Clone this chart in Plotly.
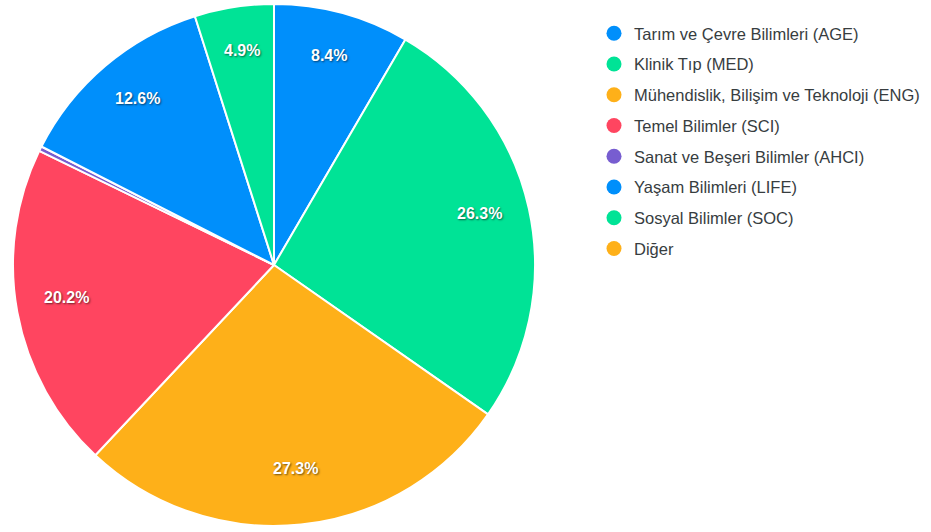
import math
import plotly.graph_objects as go

categories = [
    "Tarım ve Çevre Bilimleri (AGE)",
    "Klinik Tıp (MED)",
    "Mühendislik, Bilişim ve Teknoloji (ENG)",
    "Temel Bilimler (SCI)",
    "Sanat ve Beşeri Bilimler (AHCI)",
    "Yaşam Bilimleri (LIFE)",
    "Sosyal Bilimler (SOC)",
    "Diğer",
]
values = [8.4, 26.3, 27.3, 20.2, 0.3, 12.6, 4.9, 0.0]
colors = ["#008FFB", "#00E396", "#FEB019", "#FF4560", "#775DD0",
          "#008FFB", "#00E396", "#FEB019"]

W, H = 931, 532
CX, CY, R = 274, 265, 261
FONT = "Liberation Sans, Arial, Helvetica, sans-serif"

fig = go.Figure()
fig.add_trace(go.Pie(
    labels=categories, values=values, sort=False, direction="clockwise",
    rotation=0, textinfo="none", showlegend=False,
    marker=dict(colors=colors, line=dict(color="#ffffff", width=2)),
    domain=dict(x=[(CX - R) / W, (CX + R) / W], y=[1 - (CY + R) / H, 1 - (CY - R) / H]),
    hovertemplate="%{label}: %{percent}<extra></extra>",
))

# legend entries with circle markers
for i, (name, col) in enumerate(zip(categories, colors)):
    fig.add_trace(go.Scatter(
        x=[None], y=[None], mode="markers", name=name, legendgroup=f"g{i}",
        marker=dict(symbol="circle", size=15, color=col),
    ))

# data labels along each slice's mid-angle
total = sum(values)
cum = 0.0
annotations = []
for v in values:
    frac = v / total
    if frac * 360 >= 10:
        th = 2 * math.pi * (cum + frac / 2)
        xp = CX + 0.808 * R * math.sin(th)
        yp = CY - 0.808 * R * math.cos(th)
        annotations.append(dict(
            x=xp / W, y=1 - yp / H, xref="paper", yref="paper",
            xanchor="center", yanchor="middle",
            text=f"{v:.1f}%", showarrow=False, yshift=6,
            font=dict(family=FONT, size=16, color="#ffffff", weight="bold",
                      shadow="1px 1px 2px rgba(0,0,0,0.55)"),
        ))
    cum += frac

fig.update_layout(
    width=W, height=H, margin=dict(l=0, r=0, t=0, b=0),
    paper_bgcolor="#ffffff", plot_bgcolor="#ffffff",
    xaxis=dict(visible=False), yaxis=dict(visible=False),
    showlegend=True,
    legend=dict(x=594 / W, xanchor="left", y=1 - 16 / H, yanchor="top",
                tracegroupgap=6.3, font=dict(family=FONT, size=16.5, color="#373d3f"),
                bgcolor="rgba(0,0,0,0)"),
    annotations=annotations,
)

fig.write_html("out.html", post_script="document.body.style.margin='0';",
               config={"displayModeBar": False})
